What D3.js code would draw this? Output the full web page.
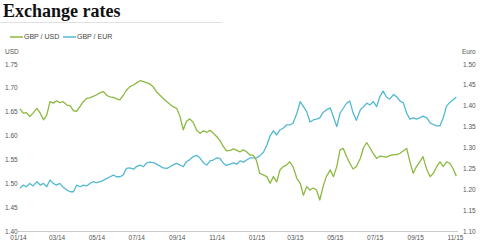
<!DOCTYPE html>
<html>
<head>
<meta charset="utf-8">
<script src="https://cdn.jsdelivr.net/npm/d3@7"></script>
<style>
  body { margin: 0; background: #fff; }
  svg { display: block; }
  .title { font-family: "Liberation Serif", serif; font-weight: bold; font-size: 18px; fill: #111; }
  .lbl { font-family: "Liberation Sans", Arial, sans-serif; font-size: 6.5px; fill: #555; }
  .legend { font-family: "Liberation Sans", Arial, sans-serif; font-size: 7px; fill: #444; }
</style>
</head>
<body>
<svg width="480" height="246"></svg>
<script>
(function (d3) {
    'use strict';
    const COLORS = { usd: '#8cb941', eur: '#52b9d2', text: '#555', rule: '#d9d9d9', axis: '#bbb' };

    // dates de leitura (aprox. a cada 5 dias)
    const dates = [
      '2014-01-04','2014-01-09','2014-01-14','2014-01-19','2014-01-24','2014-01-30','2014-02-04','2014-02-09',
      '2014-02-14','2014-02-19','2014-02-24','2014-03-01','2014-03-06','2014-03-11','2014-03-17','2014-03-22',
      '2014-03-27','2014-04-01','2014-04-06','2014-04-11','2014-04-16','2014-04-21','2014-04-26','2014-05-01',
      '2014-05-07','2014-05-12','2014-05-17','2014-05-22','2014-05-27','2014-06-01','2014-06-06','2014-06-11',
      '2014-06-16','2014-06-21','2014-06-27','2014-07-02','2014-07-07','2014-07-12','2014-07-17','2014-07-22',
      '2014-07-27','2014-08-01','2014-08-06','2014-08-11','2014-08-17','2014-08-22','2014-08-27','2014-09-01',
      '2014-09-06','2014-09-11','2014-09-16','2014-09-21','2014-09-26','2014-10-02','2014-10-07','2014-10-12',
      '2014-10-17','2014-10-22','2014-10-27','2014-11-01','2014-11-06','2014-11-11','2014-11-16','2014-11-22',
      '2014-11-27','2014-12-02','2014-12-07','2014-12-12','2014-12-17','2014-12-22','2014-12-27','2015-01-01',
      '2015-01-06','2015-01-12','2015-01-17','2015-01-22','2015-01-27','2015-02-01','2015-02-06','2015-02-11',
      '2015-02-16','2015-02-21','2015-02-26','2015-03-04','2015-03-09','2015-03-14','2015-03-19','2015-03-24',
      '2015-03-29','2015-04-03','2015-04-08','2015-04-13','2015-04-18','2015-04-24','2015-04-29','2015-05-04',
      '2015-05-09','2015-05-14','2015-05-19','2015-05-24','2015-05-29','2015-06-03','2015-06-09','2015-06-14',
      '2015-06-19','2015-06-24','2015-06-29','2015-07-04','2015-07-09','2015-07-14','2015-07-19','2015-07-24',
      '2015-07-30','2015-08-04','2015-08-09','2015-08-14','2015-08-19','2015-08-24','2015-08-29','2015-09-03',
      '2015-09-08','2015-09-13','2015-09-19','2015-09-24','2015-09-29','2015-10-04','2015-10-09','2015-10-14',
      '2015-10-19','2015-10-24','2015-10-29','2015-11-03'
    ];

    const gbpUsd = [
      1.656,1.647,1.648,1.640,1.647,1.657,1.647,1.633,1.643,1.671,1.668,1.673,1.669,1.671,1.664,1.662,
      1.652,1.651,1.661,1.671,1.678,1.679,1.682,1.685,1.690,1.692,1.684,1.681,1.680,1.677,1.675,1.684,
      1.695,1.702,1.706,1.711,1.715,1.713,1.711,1.708,1.702,1.692,1.685,1.678,1.671,1.665,1.660,1.657,
      1.640,1.612,1.630,1.635,1.628,1.610,1.605,1.610,1.607,1.611,1.605,1.598,1.590,1.578,1.568,1.569,
      1.572,1.569,1.566,1.570,1.566,1.559,1.559,1.548,1.521,1.517,1.514,1.500,1.514,1.503,1.528,1.535,
      1.538,1.545,1.535,1.510,1.500,1.475,1.493,1.486,1.490,1.486,1.465,1.493,1.514,1.528,1.514,1.535,
      1.570,1.573,1.556,1.542,1.530,1.535,1.552,1.575,1.585,1.574,1.562,1.552,1.557,1.556,1.555,1.558,
      1.560,1.560,1.563,1.568,1.573,1.545,1.521,1.535,1.545,1.556,1.528,1.514,1.521,1.535,1.545,1.535,
      1.545,1.542,1.531,1.515
    ];

    const gbpEur = [
      1.202,1.210,1.206,1.214,1.208,1.218,1.210,1.214,1.206,1.222,1.214,1.210,1.214,1.205,1.198,1.194,
      1.194,1.210,1.206,1.210,1.208,1.214,1.218,1.216,1.218,1.222,1.226,1.230,1.234,1.230,1.230,1.234,
      1.250,1.251,1.248,1.255,1.258,1.254,1.263,1.265,1.264,1.260,1.256,1.251,1.250,1.254,1.259,1.262,
      1.258,1.254,1.266,1.271,1.278,1.281,1.274,1.263,1.258,1.268,1.270,1.275,1.274,1.263,1.257,1.260,
      1.263,1.260,1.268,1.265,1.270,1.275,1.275,1.275,1.280,1.289,1.306,1.328,1.340,1.330,1.342,1.346,
      1.354,1.354,1.358,1.382,1.410,1.398,1.386,1.361,1.366,1.368,1.371,1.384,1.390,1.395,1.373,1.350,
      1.382,1.394,1.406,1.411,1.383,1.365,1.390,1.398,1.406,1.402,1.410,1.398,1.422,1.435,1.421,1.416,
      1.427,1.421,1.411,1.407,1.382,1.368,1.371,1.368,1.371,1.375,1.371,1.359,1.355,1.352,1.352,1.371,
      1.399,1.408,1.414,1.421
    ];

    const usdTicks = [1.40, 1.45, 1.50, 1.55, 1.60, 1.65, 1.70, 1.75];
    const eurTicks = [1.10, 1.15, 1.20, 1.25, 1.30, 1.35, 1.40, 1.45, 1.50];
    const seriesNames = ['GBP / USD', 'GBP / EUR'];

    const parse = d3.timeParse('%Y-%m-%d');
    const usdData = dates.map((d, i) => ({ date: parse(d), value: gbpUsd[i] }));
    const eurData = dates.map((d, i) => ({ date: parse(d), value: gbpEur[i] }));

    const svg = d3.select('svg');

    // titulo e linha fina
    svg.append('text').attr('class', 'title').attr('x', 3).attr('y', 17).text('Exchange rates');
    svg.append('line')
      .attr('x1', 0).attr('x2', 222).attr('y1', 22.5).attr('y2', 22.5)
      .attr('stroke', COLORS.rule).attr('stroke-width', 0.8);

    const x = d3.scaleTime()
      .domain([parse('2014-01-01'), parse('2015-11-01')])
      .range([18, 455]);
    const yL = d3.scaleLinear().domain([1.40, 1.75]).range([231, 64]);
    const yR = d3.scaleLinear().domain([1.10, 1.50]).range([231, 64]);

    // eixo x
    svg.append('line')
      .attr('x1', 18).attr('x2', 458).attr('y1', 231.5).attr('y2', 231.5)
      .attr('stroke', COLORS.axis).attr('stroke-width', 0.8);

    const xAxis = d3.axisBottom(x)
      .ticks(d3.timeMonth.every(2))
      .tickFormat(d3.timeFormat('%m/%y'))
      .tickSize(0)
      .tickPadding(4);
    svg.append('g')
      .attr('transform', 'translate(0,231)')
      .call(xAxis)
      .call(g => g.select('.domain').remove())
      .selectAll('text')
      .attr('class', 'lbl');

    // eixos y
    const leftAxis = d3.axisLeft(yL).tickValues(usdTicks).tickFormat(d3.format('.2f')).tickSize(0).tickPadding(0);
    svg.append('g')
      .attr('transform', 'translate(5,0)')
      .call(leftAxis)
      .call(g => g.select('.domain').remove())
      .selectAll('text')
      .attr('class', 'lbl')
      .attr('text-anchor', 'start');

    const rightAxis = d3.axisRight(yR).tickValues(eurTicks).tickFormat(d3.format('.2f')).tickSize(0).tickPadding(0);
    svg.append('g')
      .attr('transform', 'translate(463,0)')
      .call(rightAxis)
      .call(g => g.select('.domain').remove())
      .selectAll('text')
      .attr('class', 'lbl');

    svg.append('text').attr('class', 'lbl').attr('x', 5).attr('y', 54).text('USD');
    svg.append('text').attr('class', 'lbl').attr('x', 462).attr('y', 54).text('Euro');

    // linhas
    const lineL = d3.line().x(d => x(d.date)).y(d => yL(d.value));
    const lineR = d3.line().x(d => x(d.date)).y(d => yR(d.value));

    svg.append('path')
      .datum(eurData)
      .attr('fill', 'none')
      .attr('stroke', COLORS.eur)
      .attr('stroke-width', 1.3)
      .attr('stroke-linejoin', 'round')
      .attr('d', lineR);

    svg.append('path')
      .datum(usdData)
      .attr('fill', 'none')
      .attr('stroke', COLORS.usd)
      .attr('stroke-width', 1.3)
      .attr('stroke-linejoin', 'round')
      .attr('d', lineL);

    // legenda
    const legend = svg.append('g').attr('transform', 'translate(10,37)');
    const items = legend.selectAll('g')
      .data(seriesNames)
      .enter()
      .append('g')
      .attr('transform', (d, i) => `translate(${i * 53},0)`);
    items.append('line')
      .attr('x1', 0).attr('x2', 13)
      .attr('stroke', (d, i) => i === 0 ? COLORS.usd : COLORS.eur)
      .attr('stroke-width', 1.5);
    items.append('text')
      .attr('class', 'legend')
      .attr('x', 14)
      .attr('dy', '0.35em')
      .text(d => d);

}(d3));
</script>
</body>
</html>
